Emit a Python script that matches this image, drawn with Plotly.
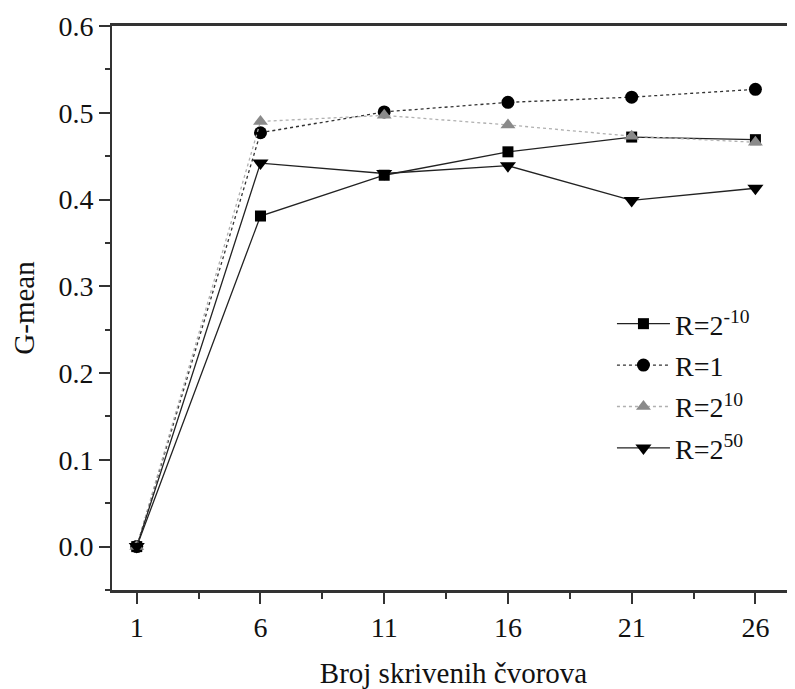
import plotly.graph_objects as go

x_nodes = [1, 6, 11, 16, 21, 26]
r_neg10 = [0.0, 0.381, 0.428, 0.455, 0.472, 0.469]
r_1 = [0.0, 0.477, 0.501, 0.512, 0.518, 0.527]
r_10 = [0.0, 0.490, 0.497, 0.486, 0.473, 0.466]
r_50 = [0.0, 0.442, 0.430, 0.439, 0.399, 0.413]

names = ["R=2<sup>-10</sup>", "R=1", "R=2<sup>10</sup>", "R=2<sup>50</sup>"]
series = [r_neg10, r_1, r_10, r_50]
symbols = ["square", "circle", "triangle-up", "triangle-down"]
mcolors = ["#000000", "#000000", "#8a8a8a", "#000000"]
lcolors = ["#222222", "#333333", "#b0b0b0", "#222222"]
dashes = ["solid", "dot", "dot", "solid"]
msizes = [11, 13, 13, 14]

FONT = "Liberation Serif, Times New Roman, Times, DejaVu Serif, serif"

fig = go.Figure()
for i, (nm, ys, sym, mc, lc, ds, ms) in enumerate(zip(names, series, symbols, mcolors, lcolors, dashes, msizes)):
    fig.add_trace(go.Scatter(
        x=x_nodes, y=ys, name=nm, mode="lines+markers",
        legendgroup=f"g{i}",
        line=dict(color=lc, width=1.3, dash=ds),
        marker=dict(symbol=sym, size=ms, color=mc),
    ))

fig.update_layout(
    width=787, height=681,
    margin=dict(l=104, r=0, t=18, b=99),
    paper_bgcolor="white", plot_bgcolor="white",
    font=dict(family=FONT, size=28, color="#111111"),
    showlegend=True,
    legend=dict(
        x=0.732, y=0.516, xanchor="left", yanchor="top",
        bgcolor="rgba(0,0,0,0)", font=dict(family=FONT, size=28),
        itemwidth=53, tracegroupgap=2,
    ),
    xaxis=dict(
        range=[0, 27.6], tickvals=x_nodes, ticktext=[str(v) for v in x_nodes],
        showline=True, linecolor="#333333", linewidth=2.5, mirror=True,
        ticks="outside", ticklen=11, tickwidth=1.5, tickcolor="#333333",
        minor=dict(ticks="outside", ticklen=6, tickwidth=1.5, tickcolor="#333333", dtick=2.5, tick0=1),
        showgrid=False, zeroline=False,
        title=dict(text="Broj skrivenih čvorova", font=dict(family=FONT, size=29), standoff=25),
        tickfont=dict(family=FONT, size=28),
    ),
    yaxis=dict(
        range=[-0.05, 0.6], tickvals=[0, 0.1, 0.2, 0.3, 0.4, 0.5, 0.6],
        ticktext=["0.0", "0.1", "0.2", "0.3", "0.4", "0.5", "0.6"],
        showline=True, linecolor="#333333", linewidth=2,
        ticks="outside", ticklen=11, tickwidth=1.5, tickcolor="#333333",
        minor=dict(ticks="outside", ticklen=5, tickwidth=1.5, tickcolor="#333333", dtick=0.05, tick0=0),
        showgrid=False, zeroline=False,
        title=dict(text="G-mean", font=dict(family=FONT, size=29), standoff=20),
        tickfont=dict(family=FONT, size=28),
    ),
)

fig.write_html("out.html")
